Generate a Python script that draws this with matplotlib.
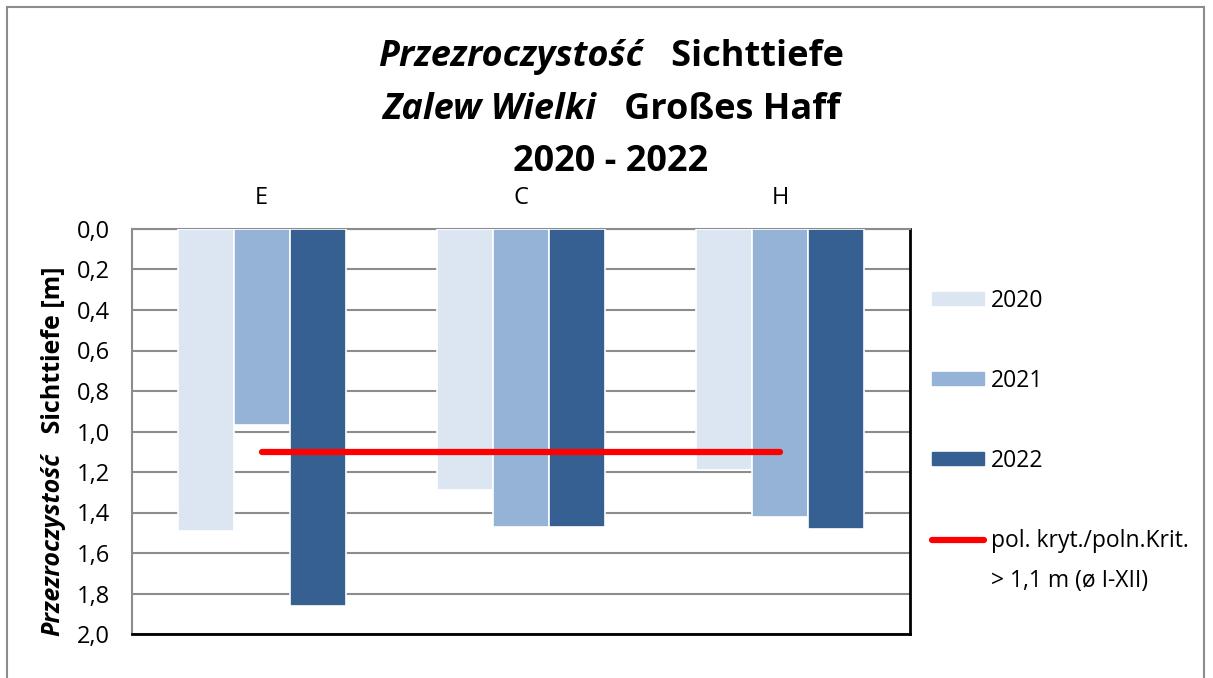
import matplotlib
matplotlib.use("Agg")
import matplotlib.pyplot as plt
import numpy as np
from matplotlib.patches import Rectangle
from matplotlib.lines import Line2D

plt.rcParams['font.family'] = ['Open Sans', 'DejaVu Sans']

stations = ["E", "C", "H"]
years = ["2020", "2021", "2022"]
v2020 = [1.49, 1.29, 1.19]
v2021 = [0.97, 1.47, 1.42]
v2022 = [1.86, 1.47, 1.48]
crit_value = 1.1
crit_lines = ["pol. kryt./poln.Krit.", "> 1,1 m (ø I-XII)"]
colors = ["#DCE6F2", "#95B3D7", "#366092"]

W, H = 1213, 678
fig = plt.figure(figsize=(W / 100, H / 100), dpi=100)

# outer chart border
fig.patches.append(Rectangle((7 / W, -0.05), 1197 / W, 1.05 - 7 / H, transform=fig.transFigure,
                             fill=False, edgecolor="#8c8c8c", linewidth=1.5))

ax = fig.add_axes([132 / W, 1 - 634 / H, 778 / W, 405 / H])
x = np.arange(len(stations))
bw = 0.216
for i, vals in enumerate([v2020, v2021, v2022]):
    ax.bar(x + (i - 1) * bw, vals, width=bw, color=colors[i], edgecolor="white",
           linewidth=1.2, zorder=3, label=years[i])
ax.plot([x[0], x[-1]], [crit_value, crit_value], color="#FF0000", linewidth=4.5,
        solid_capstyle="round", zorder=4)

ax.set_xlim(-0.5, 2.5)
ax.set_ylim(2.0, 0.0)
ticks = np.arange(0, 2.01, 0.2)
ax.set_yticks(ticks)
ax.set_yticklabels([f"{t:.1f}".replace(".", ",") for t in ticks], fontsize=17)
ax.yaxis.grid(True, color="#8c8c8c", linewidth=1.5, zorder=0)
ax.set_axisbelow(True)
ax.tick_params(axis="y", length=0, pad=16)
ax.xaxis.tick_top()
ax.set_xticks(x)
ax.set_xticklabels(stations, fontsize=17)
ax.tick_params(axis="x", length=0, pad=14)
for s in ["left", "top"]:
    ax.spines[s].set_color("#8c8c8c")
    ax.spines[s].set_linewidth(1.5)
for s in ["bottom", "right"]:
    ax.spines[s].set_color("black")
    ax.spines[s].set_linewidth(2)

# legend
handles = [Rectangle((0, 0), 1, 1, color=c) for c in colors]
handles.append(Line2D([0], [0], color="#FF0000", linewidth=4.5, solid_capstyle="round"))
labels = years + [crit_lines[0]]
leg = fig.legend(handles, labels, loc="upper left", bbox_to_anchor=(911 / W, 1 - 268 / H),
                 frameon=False, fontsize=16.5, handlelength=2.3, handleheight=0.5,
                 labelspacing=2.45, handletextpad=0.3)

fig.canvas.draw()
renderer = fig.canvas.get_renderer()

# second line of the criterion label below the first one
bb = leg.get_texts()[-1].get_window_extent(renderer)
fig.text(bb.x0 / W, (bb.y0 - 40) / H, crit_lines[1], fontsize=16.5, ha="left", va="bottom")


def mixed_line(parts, xc, yc, size, rotation=0):
    # parts: list of (text, italic)
    objs = []
    for txt, it in parts:
        t = fig.text(0, 0, txt, fontsize=size, fontweight="bold",
                     fontstyle="italic" if it else "normal", rotation=rotation,
                     ha="left", va="center", rotation_mode="anchor")
        objs.append(t)
    widths = []
    for t in objs:
        b = t.get_window_extent(renderer)
        widths.append(b.height if rotation else b.width)
    total = sum(widths)
    pos = -total / 2
    for t, w in zip(objs, widths):
        if rotation:
            t.set_position((xc / W, 1 - (yc - pos) / H))
        else:
            t.set_position(((xc + pos) / W, 1 - yc / H))
        pos += w


mixed_line([("Przezroczystość", True), ("   Sichttiefe", False)], 611, 57, 26)
mixed_line([("Zalew Wielki", True), ("   Großes Haff", False)], 611, 110, 26)
mixed_line([("2020 - 2022", False)], 611, 162, 26)
mixed_line([("Przezroczystość", True), ("   Sichttiefe [m]", False)], 53, 451, 18, rotation=90)

fig.savefig("out.png", dpi=100)
